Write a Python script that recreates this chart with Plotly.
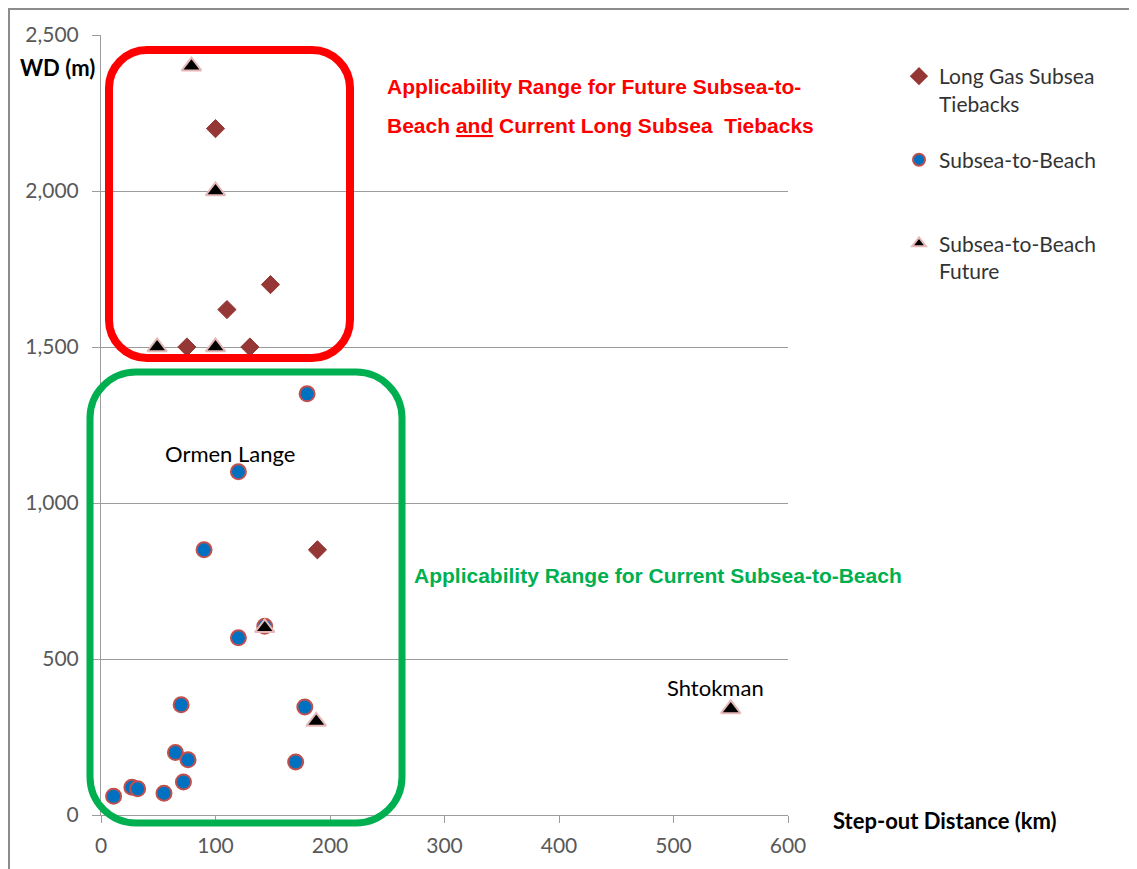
import plotly.graph_objects as go

# ---------------- data ----------------
gas_x = [100, 148, 110, 75, 130, 189]
gas_y = [2200, 1700, 1620, 1500, 1500, 850]

beach_x = [180, 120, 90, 120, 143, 70, 178, 65, 76, 170, 72, 27, 32, 55, 11]
beach_y = [1350, 1100, 850, 568, 605, 353, 346, 200, 177, 170, 106, 89, 84, 70, 60]

future_x = [79, 100, 49, 100, 143, 188, 550]
future_y = [2400, 2000, 1500, 1500, 600, 300, 340]

x_ticks = [0, 100, 200, 300, 400, 500, 600]
y_ticks = [0, 500, 1000, 1500, 2000, 2500]

series_names = ["Long Gas Subsea<br>Tiebacks", "Subsea-to-Beach<br> ", "Subsea-to-Beach<br>Future"]

# ---------------- layout geometry ----------------
OFF = 8                      # page body margin of the browser
W, H = 1137 - OFF, 869 - OFF
L, R, T, B = 101, 788, 35, 815   # plot area in reference pixels
pw, ph = R - L, B - T


def px(x):
    return (x - L) / pw


def py(y):
    return (B - y) / ph


def rounded_rect(x0, y0, x1, y1, r):
    """Rounded rectangle path in paper coordinates from pixel box."""
    k = 0.5523 * r

    def P(a, b):
        return f"{px(a):.5f},{py(b):.5f}"
    d = (f"M {P(x0 + r, y0)} L {P(x1 - r, y0)} "
         f"C {P(x1 - r + k, y0)} {P(x1, y0 + r - k)} {P(x1, y0 + r)} "
         f"L {P(x1, y1 - r)} "
         f"C {P(x1, y1 - r + k)} {P(x1 - r + k, y1)} {P(x1 - r, y1)} "
         f"L {P(x0 + r, y1)} "
         f"C {P(x0 + r - k, y1)} {P(x0, y1 - r + k)} {P(x0, y1 - r)} "
         f"L {P(x0, y0 + r)} "
         f"C {P(x0, y0 + r - k)} {P(x0 + r - k, y0)} {P(x0 + r, y0)} Z")
    return d


FONT = "Lato, Calibri, Carlito, sans-serif"
ARIAL = "Liberation Sans, Arial, sans-serif"
GRID = "#9C9C9C"

fig = go.Figure()

fig.add_trace(go.Scatter(
    x=gas_x, y=gas_y, mode="markers", name=series_names[0], legendgroup="a",
    marker=dict(symbol="diamond", size=14, color="#953735",
                line=dict(color="#953735", width=1)),
))
fig.add_trace(go.Scatter(
    x=beach_x, y=beach_y, mode="markers", name=series_names[1], legendgroup="b",
    marker=dict(symbol="circle", size=15, color="#0070C0",
                line=dict(color="#C0504D", width=2)),
))
fig.add_trace(go.Scatter(
    x=future_x, y=future_y, mode="markers", name=series_names[2], legendgroup="c",
    marker=dict(symbol="triangle-up", size=17, color="#000000",
                line=dict(color="#E6B9B8", width=2)),
))

shapes = [
    # outer chart border
    dict(type="rect", xref="paper", yref="paper",
         x0=px(9), x1=px(1145), y0=py(9), y1=py(880),
         line=dict(color="#8C8C8C", width=2), layer="below"),
    # red applicability box
    dict(type="path", xref="paper", yref="paper",
         path=rounded_rect(109, 50, 350, 358, 38),
         line=dict(color="#FF0000", width=8), layer="above"),
    # green applicability box
    dict(type="path", xref="paper", yref="paper",
         path=rounded_rect(90, 372, 402, 823, 46),
         line=dict(color="#00B050", width=7), layer="above"),
]


def note(text, x, y, font, xanchor="center", ref="paper"):
    if ref == "paper":
        return dict(text=text, xref="paper", yref="paper", x=px(x), y=py(y),
                    xanchor=xanchor, yanchor="middle", showarrow=False, font=font)
    return dict(text=text, xref="x", yref="y", x=x, y=y,
                xanchor=xanchor, yanchor="middle", showarrow=False, font=font)


black22 = dict(family=FONT, size=22, color="#000000")
annotations = [
    note("<b>WD (m)</b>", 57, 68, black22),
    note("<b>Step-out Distance (km)</b>", 945, 820, black22),
    note("Ormen Lange", 113, 1160, black22, ref="data"),
    note("Shtokman", 537, 410, black22, ref="data"),
    note("<b>Applicability Range for Future Subsea-to-</b>", 385, 87,
         dict(family=ARIAL, size=21, color="#FF0000"), xanchor="left"),
    note("<b>Beach <u>and</u> Current Long Subsea  Tiebacks</b>", 385, 125,
         dict(family=ARIAL, size=21, color="#FF0000"), xanchor="left"),
    note("<b>Applicability Range for Current Subsea-to-Beach</b>", 412, 575,
         dict(family=ARIAL, size=21, color="#00B050"), xanchor="left"),
]

fig.update_layout(
    width=W, height=H,
    margin=dict(l=L - OFF, r=W - (R - OFF), t=T - OFF, b=H - (B - OFF), pad=0),
    paper_bgcolor="white", plot_bgcolor="white",
    font=dict(family=FONT, size=21, color="#595959"),
    showlegend=True,
    legend=dict(x=px(899), y=py(56), xanchor="left", yanchor="top",
                font=dict(family=FONT, size=21, color="#333333"),
                tracegroupgap=26, valign="top", bgcolor="rgba(0,0,0,0)",
                itemsizing="constant"),
    shapes=shapes,
    annotations=annotations,
    xaxis=dict(range=[0, 600], tickvals=x_ticks, showgrid=False, zeroline=False,
               showline=True, linecolor=GRID, linewidth=1,
               ticks="outside", ticklen=7, tickcolor=GRID,
               ticklabelstandoff=5,
               tickfont=dict(family=FONT, size=21, color="#595959")),
    yaxis=dict(range=[0, 2500], tickvals=y_ticks, tickformat=",", showgrid=True,
               gridcolor=GRID, gridwidth=1, zeroline=False,
               showline=True, linecolor=GRID, linewidth=1,
               ticks="outside", ticklen=8, tickcolor=GRID,
               ticklabelstandoff=9,
               tickfont=dict(family=FONT, size=21, color="#595959")),
)

fig.write_html("out.html")
